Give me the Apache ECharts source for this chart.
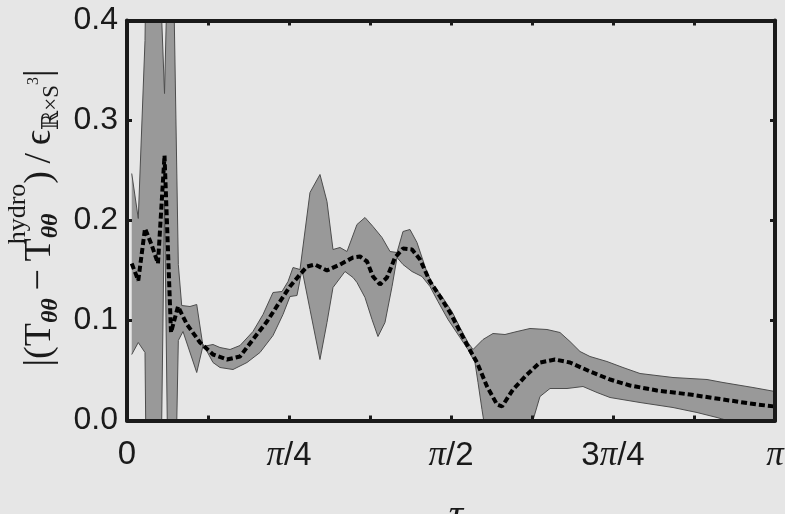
<!DOCTYPE html>
<html><head><meta charset="utf-8">
<script src="https://cdn.jsdelivr.net/npm/echarts@6/dist/echarts.min.js"></script>
<style>html,body{margin:0;padding:0;background:#e6e6e6;}#c{width:785px;height:514px;}</style>
</head><body><div id="c"></div>
<script>
// tau in units of pi (tau/pi)
const tauMean = [0.0073,0.0174,0.0278,0.0378,0.0478,0.0579,0.0679,0.0787,0.0926,0.1127,0.1327,0.1543,0.1744,0.1944,0.2160,0.2361,0.2515,0.2670,0.2778,0.2901,0.3086,0.3287,0.3488,0.3596,0.3704,0.3796,0.3904,0.4012,0.4136,0.4259,0.4398,0.4522,0.4676,0.4830,0.4985,0.5139,0.5262,0.5401,0.5556,0.5710,0.5787,0.5957,0.6173,0.6373,0.6605,0.6836,0.7145,0.7454,0.7762,0.8179,0.8688,0.9198,0.9722,1.0];
const meanVals = [0.157,0.140,0.192,0.176,0.157,0.265,0.088,0.114,0.096,0.078,0.066,0.061,0.064,0.081,0.099,0.119,0.134,0.146,0.154,0.156,0.150,0.156,0.163,0.164,0.159,0.144,0.136,0.143,0.163,0.172,0.171,0.161,0.139,0.124,0.108,0.089,0.074,0.058,0.034,0.016,0.014,0.031,0.046,0.058,0.061,0.058,0.049,0.041,0.035,0.030,0.026,0.021,0.016,0.014];

const tauUpper = [0.0073,0.0174,0.0278,0.0378,0.0478,0.0579,0.0679,0.0792,0.0844,0.0972,0.1076,0.1173,0.1327,0.1435,0.1590,0.1744,0.1944,0.2099,0.2253,0.2392,0.2485,0.2562,0.2670,0.2824,0.2978,0.3086,0.3179,0.3287,0.3395,0.3549,0.3673,0.3796,0.3935,0.4059,0.4167,0.4259,0.4367,0.4475,0.4630,0.4722,0.4861,0.5015,0.5139,0.5262,0.5340,0.5494,0.5648,0.5833,0.6019,0.6219,0.6481,0.6682,0.6836,0.6991,0.7145,0.7407,0.7654,0.7917,0.8426,0.8951,0.9198,0.9660,1.0];
const upperVals = [0.247,0.202,0.38,0.90,0.50,0.327,0.60,0.156,0.115,0.114,0.116,0.074,0.076,0.073,0.071,0.075,0.089,0.106,0.128,0.129,0.139,0.153,0.151,0.228,0.246,0.219,0.171,0.173,0.169,0.196,0.203,0.194,0.183,0.169,0.168,0.189,0.191,0.178,0.148,0.136,0.124,0.109,0.093,0.078,0.071,0.081,0.087,0.086,0.089,0.092,0.091,0.088,0.079,0.069,0.064,0.059,0.053,0.047,0.043,0.041,0.038,0.033,0.029];

const tauLower = [0.0073,0.0174,0.0278,0.0378,0.0478,0.0579,0.0679,0.0792,0.0864,0.1076,0.1177,0.1327,0.1435,0.1636,0.1852,0.2052,0.2253,0.2407,0.2515,0.2623,0.2701,0.2824,0.2978,0.3086,0.3179,0.3364,0.3488,0.3549,0.3673,0.3781,0.3873,0.3981,0.4090,0.4167,0.4259,0.4398,0.4552,0.4676,0.4799,0.4954,0.5139,0.5262,0.5370,0.5417,0.5478,0.5602,0.5910,0.6173,0.6373,0.6528,0.6790,0.7037,0.7253,0.7454,0.7917,0.8426,0.8796,0.9105,0.9537,1.0];
const lowerVals = [0.066,0.078,0.068,-0.60,-0.29,0.22,-0.30,0.080,0.089,0.048,0.076,0.058,0.053,0.051,0.058,0.068,0.085,0.106,0.124,0.125,0.151,0.111,0.061,0.098,0.133,0.149,0.143,0.138,0.123,0.101,0.084,0.098,0.134,0.163,0.156,0.149,0.144,0.134,0.119,0.101,0.083,0.071,0.058,0.038,0.011,-0.04,-0.06,-0.02,0.024,0.032,0.032,0.034,0.028,0.023,0.018,0.013,0.008,0.003,-0.005,-0.01];

const xTickValues = [0, 0.25, 0.5, 0.75, 1];
const xTickLabels = ['0', 'π/4', 'π/2', '3π/4', 'π'];
const yTickLabels = ['0.0', '0.1', '0.2', '0.3', '0.4'];

const BG = '#e6e6e6', FRAME = '#1a1a1a', BAND = '#999999', EDGE = '#4d4d4d';
const SANS = "'Liberation Sans', Arial, sans-serif";
const SERIF = "'Liberation Serif','DejaVu Serif',serif";

const zip = (xs, ys) => xs.map((x, i) => [x, ys[i]]);
const upperPts = zip(tauUpper, upperVals);
const lowerPts = zip(tauLower, lowerVals);

// y-axis title laid out as rotated text pieces
const cv = document.createElement('canvas').getContext('2d');
function tw(t, font) { cv.font = font; return cv.measureText(t).width; }
const fMain = '38px ' + SERIF;
const fSub = 'italic bold 24px ' + SERIF;
const fSup = '26px ' + SERIF;
const fSub2 = '23px ' + SERIF;
const fSup2 = '16px ' + SERIF;
const parts = [
  [{t: '|(T', f: fMain, dy: 0}],
  [{t: 'θθ', f: fSub, dy: 11}],
  [{t: '\u2009−\u2009T', f: fMain, dy: 0}],
  [{t: 'hydro', f: fSup, dy: -22, dx: -6}, {t: 'θθ', f: fSub, dy: 11}],
  [{t: ')\u2009/\u2009ϵ', f: fMain, dy: 0}],
  [{t: 'ℝ×S', f: fSub2, dy: 12}],
  [{t: '3', f: fSup2, dy: -6}],
  [{t: '|', f: fMain, dy: 0}]
];
let widths = parts.map(g => Math.max(...g.map(p => tw(p.t, p.f) + (p.dx || 0))));
const W = widths.reduce((a, b) => a + b, 0);
let cx = -W / 2;
const children = [];
parts.forEach((g, i) => {
  g.forEach(p => {
    children.push({type: 'text', x: cx + (p.dx || 0), y: p.dy,
      style: {text: p.t, font: p.f, fill: FRAME, align: 'left', verticalAlign: 'middle'}});
  });
  cx += widths[i];
});

const chart = echarts.init(document.getElementById('c'));
const axisCommon = {
  type: 'value', min: 0, max: 1, interval: 0.125,
  axisLine: {show: true, onZero: false, lineStyle: {color: FRAME, width: 4}},
  axisTick: {show: true, inside: true, length: 5, lineStyle: {color: FRAME, width: 3}},
  splitLine: {show: false}, z: 10
};
const yCommon = {
  type: 'value', min: 0, max: 0.4, interval: 0.1,
  axisLine: {show: true, onZero: false, lineStyle: {color: FRAME, width: 4}},
  axisTick: {show: true, inside: true, length: 5, lineStyle: {color: FRAME, width: 3}},
  splitLine: {show: false}, z: 10
};
chart.setOption({
  backgroundColor: BG,
  animation: false,
  grid: {left: 127, top: 20.5, width: 648, height: 400, containLabel: false, outerBoundsMode: 'none'},
  xAxis: [
    Object.assign({}, axisCommon, {
      position: 'bottom',
      name: 'τ', nameLocation: 'middle', nameGap: 76,
      nameTextStyle: {fontFamily: SERIF, fontStyle: 'italic', fontSize: 40, color: FRAME, padding: [0, 0, 0, 10]},
      axisLabel: {
        margin: 18, fontFamily: SANS, fontSize: 33, color: FRAME,
        formatter: v => {
          const i = xTickValues.findIndex(t => Math.abs(t - v) < 1e-6);
          if (i < 0) return '';
          return xTickLabels[i].replace('π', '{p|π}');
        },
        rich: {p: {fontFamily: SERIF, fontStyle: 'italic', fontSize: 35, color: FRAME}}
      }
    }),
    Object.assign({}, axisCommon, {position: 'top', axisLabel: {show: false}})
  ],
  yAxis: [
    Object.assign({}, yCommon, {
      position: 'left',
      axisLabel: {margin: 9, fontFamily: SANS, fontSize: 32, color: FRAME,
        formatter: v => yTickLabels[Math.round(v * 10)]}
    }),
    Object.assign({}, yCommon, {position: 'right', axisLabel: {show: false}})
  ],
  graphic: [{type: 'group', x: 40, y: 218, rotation: Math.PI / 2, children: children}],
  series: [
    {type: 'custom', name: 'band', clip: true, data: [[0, 0]], z: 2,
      renderItem: (params, api) => {
        const pts = upperPts.map(p => api.coord(p)).concat(lowerPts.slice().reverse().map(p => api.coord(p)));
        return {type: 'polygon', shape: {points: pts}, style: {fill: BAND, stroke: null}};
      }},
    {type: 'line', name: 'upper', data: upperPts, showSymbol: false, symbol: 'none',
      lineStyle: {color: EDGE, width: 1}, z: 3},
    {type: 'line', name: 'lower', data: lowerPts, showSymbol: false, symbol: 'none',
      lineStyle: {color: EDGE, width: 1}, z: 3},
    {type: 'line', name: 'mean', data: zip(tauMean, meanVals), showSymbol: false, symbol: 'none',
      lineStyle: {color: '#000', width: 4, type: [6, 3]}, z: 4}
  ]
});
</script></body></html>
